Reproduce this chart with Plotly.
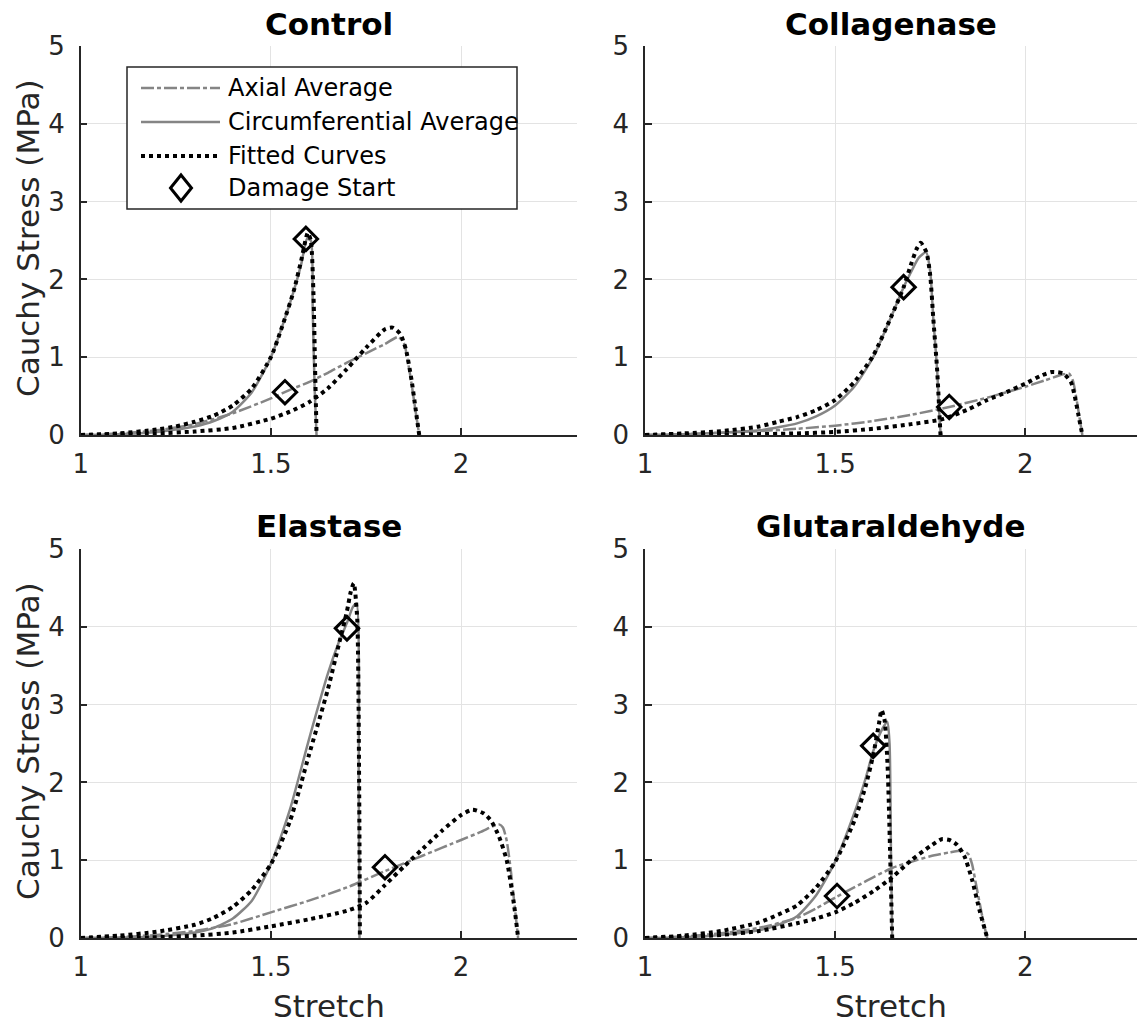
import plotly.graph_objects as go

# ---------------- data ----------------
PANEL_TITLES = ["Control", "Collagenase", "Elastase", "Glutaraldehyde"]
X_TICKS = [1, 1.5, 2]
X_TICK_TEXT = ["1", "1.5", "2"]
Y_TICKS = [0, 1, 2, 3, 4, 5]
Y_TICK_TEXT = ["0", "1", "2", "3", "4", "5"]
LEGEND_LABELS = ["Axial Average", "Circumferential Average", "Fitted Curves", "Damage Start"]

# Control
ctrl_circ_x = [1.00, 1.10, 1.20, 1.25, 1.30, 1.35, 1.40, 1.45, 1.50, 1.53, 1.56, 1.58, 1.595, 1.605, 1.61, 1.615, 1.62]
ctrl_circ_y = [0, 0.01, 0.04, 0.07, 0.11, 0.18, 0.30, 0.55, 1.00, 1.40, 1.85, 2.20, 2.52, 2.50, 1.60, 0.60, 0]
ctrl_circfit_x = [1.00, 1.10, 1.20, 1.25, 1.30, 1.35, 1.40, 1.45, 1.50, 1.53, 1.56, 1.58, 1.597, 1.605, 1.612, 1.616, 1.619, 1.62]
ctrl_circfit_y = [0, 0.02, 0.07, 0.11, 0.17, 0.25, 0.38, 0.60, 1.00, 1.40, 1.85, 2.25, 2.60, 2.50, 1.80, 0.90, 0.25, 0]
ctrl_ax_x = [1.00, 1.10, 1.20, 1.30, 1.40, 1.50, 1.55, 1.60, 1.65, 1.70, 1.75, 1.80, 1.835, 1.85, 1.86, 1.87, 1.88, 1.89]
ctrl_ax_y = [0, 0.02, 0.06, 0.14, 0.28, 0.47, 0.58, 0.68, 0.80, 0.93, 1.05, 1.17, 1.26, 1.18, 0.95, 0.65, 0.32, 0]
ctrl_axfit_x = [1.00, 1.10, 1.20, 1.30, 1.40, 1.50, 1.55, 1.60, 1.65, 1.70, 1.75, 1.80, 1.82, 1.84, 1.855, 1.87, 1.88, 1.89]
ctrl_axfit_y = [0, 0.005, 0.02, 0.045, 0.09, 0.21, 0.30, 0.42, 0.60, 0.85, 1.12, 1.36, 1.38, 1.30, 1.10, 0.70, 0.35, 0]
ctrl_dmg_x = [1.592, 1.537]
ctrl_dmg_y = [2.52, 0.55]

# Collagenase
col_circ_x = [1.00, 1.10, 1.20, 1.30, 1.35, 1.40, 1.45, 1.50, 1.55, 1.60, 1.65, 1.68, 1.70, 1.72, 1.739, 1.75, 1.758, 1.768, 1.777, 1.78]
col_circ_y = [0, 0.01, 0.03, 0.06, 0.10, 0.15, 0.24, 0.38, 0.62, 1.00, 1.55, 1.90, 2.10, 2.28, 2.35, 2.10, 1.50, 0.85, 0.05, 0]
col_circfit_x = [1.00, 1.10, 1.20, 1.30, 1.35, 1.40, 1.45, 1.50, 1.55, 1.60, 1.65, 1.68, 1.70, 1.715, 1.725, 1.74, 1.75, 1.758, 1.768, 1.777]
col_circfit_y = [0, 0.02, 0.05, 0.11, 0.17, 0.23, 0.32, 0.45, 0.68, 1.02, 1.55, 1.90, 2.20, 2.40, 2.47, 2.35, 2.05, 1.50, 0.85, 0]
col_ax_x = [1.00, 1.10, 1.20, 1.30, 1.40, 1.50, 1.60, 1.70, 1.80, 1.90, 1.95, 2.00, 2.05, 2.10, 2.115, 2.125, 2.135, 2.145, 2.15]
col_ax_y = [0, 0.01, 0.03, 0.05, 0.08, 0.12, 0.18, 0.26, 0.36, 0.48, 0.55, 0.62, 0.70, 0.78, 0.79, 0.70, 0.45, 0.15, 0]
col_axfit_x = [1.00, 1.20, 1.40, 1.50, 1.60, 1.70, 1.78, 1.85, 1.90, 1.95, 2.00, 2.04, 2.07, 2.10, 2.12, 2.13, 2.14, 2.15]
col_axfit_y = [0, 0.005, 0.02, 0.04, 0.08, 0.14, 0.20, 0.33, 0.45, 0.55, 0.66, 0.76, 0.81, 0.79, 0.68, 0.50, 0.25, 0]
col_dmg_x = [1.68, 1.80]
col_dmg_y = [1.90, 0.36]

# Elastase
ela_circ_x = [1.00, 1.10, 1.20, 1.30, 1.35, 1.40, 1.45, 1.50, 1.55, 1.60, 1.65, 1.68, 1.70, 1.715, 1.725, 1.731, 1.733]
ela_circ_y = [0, 0.005, 0.02, 0.07, 0.13, 0.25, 0.48, 0.95, 1.65, 2.55, 3.40, 3.82, 4.05, 4.25, 4.30, 2.00, 0]
ela_circfit_x = [1.00, 1.10, 1.20, 1.30, 1.35, 1.40, 1.45, 1.50, 1.55, 1.60, 1.65, 1.68, 1.70, 1.71, 1.718, 1.727, 1.732, 1.734]
ela_circfit_y = [0, 0.03, 0.08, 0.17, 0.26, 0.40, 0.62, 0.95, 1.50, 2.35, 3.20, 3.80, 4.20, 4.45, 4.56, 4.10, 2.00, 0]
ela_ax_x = [1.00, 1.10, 1.20, 1.30, 1.40, 1.50, 1.60, 1.70, 1.80, 1.90, 2.00, 2.05, 2.09, 2.10, 2.11, 2.12, 2.13, 2.14, 2.15]
ela_ax_y = [0, 0.01, 0.04, 0.09, 0.18, 0.33, 0.48, 0.65, 0.86, 1.06, 1.26, 1.36, 1.45, 1.46, 1.42, 1.25, 0.90, 0.45, 0]
ela_axfit_x = [1.00, 1.20, 1.30, 1.40, 1.50, 1.60, 1.70, 1.75, 1.80, 1.85, 1.90, 1.95, 2.00, 2.03, 2.06, 2.08, 2.10, 2.12, 2.14, 2.15]
ela_axfit_y = [0, 0.01, 0.03, 0.07, 0.15, 0.24, 0.35, 0.45, 0.68, 0.92, 1.15, 1.38, 1.58, 1.65, 1.60, 1.50, 1.30, 1.00, 0.40, 0]
ela_dmg_x = [1.70, 1.80]
ela_dmg_y = [3.98, 0.91]

# Glutaraldehyde
glu_circ_x = [1.00, 1.10, 1.20, 1.30, 1.35, 1.40, 1.45, 1.50, 1.55, 1.58, 1.60, 1.62, 1.637, 1.643, 1.647, 1.65]
glu_circ_y = [0, 0.01, 0.04, 0.10, 0.17, 0.28, 0.55, 0.98, 1.60, 2.05, 2.40, 2.65, 2.78, 2.50, 1.00, 0]
glu_circfit_x = [1.00, 1.10, 1.20, 1.30, 1.35, 1.40, 1.45, 1.50, 1.55, 1.58, 1.60, 1.615, 1.622, 1.63, 1.638, 1.645, 1.65]
glu_circfit_y = [0, 0.03, 0.09, 0.20, 0.30, 0.42, 0.65, 0.98, 1.50, 1.95, 2.35, 2.75, 2.93, 2.80, 2.20, 1.00, 0]
glu_ax_x = [1.00, 1.10, 1.20, 1.30, 1.40, 1.45, 1.50, 1.55, 1.60, 1.65, 1.70, 1.75, 1.80, 1.835, 1.85, 1.86, 1.87, 1.88, 1.89, 1.90]
glu_ax_y = [0, 0.02, 0.06, 0.13, 0.26, 0.38, 0.52, 0.65, 0.78, 0.90, 0.98, 1.05, 1.10, 1.12, 1.08, 0.95, 0.70, 0.45, 0.20, 0]
glu_axfit_x = [1.00, 1.10, 1.20, 1.30, 1.40, 1.45, 1.50, 1.55, 1.60, 1.65, 1.70, 1.75, 1.78, 1.80, 1.82, 1.84, 1.86, 1.88, 1.90]
glu_axfit_y = [0, 0.01, 0.04, 0.09, 0.19, 0.25, 0.33, 0.45, 0.60, 0.78, 1.00, 1.18, 1.27, 1.26, 1.20, 1.05, 0.75, 0.35, 0]
glu_dmg_x = [1.60, 1.505]
glu_dmg_y = [2.47, 0.54]

PANELS = [
    (ctrl_ax_x, ctrl_ax_y, ctrl_circ_x, ctrl_circ_y, ctrl_axfit_x, ctrl_axfit_y, ctrl_circfit_x, ctrl_circfit_y, ctrl_dmg_x, ctrl_dmg_y),
    (col_ax_x, col_ax_y, col_circ_x, col_circ_y, col_axfit_x, col_axfit_y, col_circfit_x, col_circfit_y, col_dmg_x, col_dmg_y),
    (ela_ax_x, ela_ax_y, ela_circ_x, ela_circ_y, ela_axfit_x, ela_axfit_y, ela_circfit_x, ela_circfit_y, ela_dmg_x, ela_dmg_y),
    (glu_ax_x, glu_ax_y, glu_circ_x, glu_circ_y, glu_axfit_x, glu_axfit_y, glu_circfit_x, glu_circfit_y, glu_dmg_x, glu_dmg_y),
]

# ---------------- style ----------------
W, H = 1137, 1027
FONT = "DejaVu Sans"
DARK = "#262626"
GRAY = "#858585"
GRID = "#e3e3e3"
AX_DASH = "13px,3px,4px,3px"
SMOOTH = 0.6

def px_x(p):
    return p / W

def px_y(p):
    return 1 - p / H

# axes positions (pixels)
X_DOM = [(80.7, 576.7), (645, 1137)]
Y_DOM = [(46, 435), (549, 938)]
X_RANGES = [[1, 2.304], [1, 2.2937]]

fig = go.Figure()
layout = dict(
    width=W, height=H,
    margin=dict(l=0, r=0, t=0, b=0, pad=0),
    paper_bgcolor="white", plot_bgcolor="white",
    showlegend=False,
    font=dict(family=FONT, color=DARK),
    hovermode=False,
)

for i in range(4):
    r, c = divmod(i, 2)
    n = i + 1
    xa = "x" if n == 1 else f"x{n}"
    ya = "y" if n == 1 else f"y{n}"
    ax_x, ax_y, ci_x, ci_y, afx, afy, cfx, cfy, dx, dy = PANELS[i]

    fig.add_trace(go.Scatter(x=ax_x, y=ax_y, mode="lines", xaxis=xa, yaxis=ya,
                             line=dict(color=GRAY, width=2.5, dash=AX_DASH, shape="spline", smoothing=SMOOTH)))
    fig.add_trace(go.Scatter(x=ci_x, y=ci_y, mode="lines", xaxis=xa, yaxis=ya,
                             line=dict(color=GRAY, width=2.5, shape="spline", smoothing=SMOOTH)))
    fig.add_trace(go.Scatter(x=afx, y=afy, mode="lines", xaxis=xa, yaxis=ya,
                             line=dict(color="black", width=4, dash="dot", shape="spline", smoothing=SMOOTH)))
    fig.add_trace(go.Scatter(x=cfx, y=cfy, mode="lines", xaxis=xa, yaxis=ya,
                             line=dict(color="black", width=4, dash="dot", shape="spline", smoothing=SMOOTH)))
    fig.add_trace(go.Scatter(x=dx, y=dy, mode="markers", xaxis=xa, yaxis=ya, cliponaxis=False,
                             marker=dict(symbol="diamond-open", size=18, color="black",
                                         line=dict(color="black", width=3))))

    x0, x1 = X_DOM[c]
    y0, y1 = Y_DOM[r]
    xkey = "xaxis" if n == 1 else f"xaxis{n}"
    ykey = "yaxis" if n == 1 else f"yaxis{n}"
    layout[xkey] = dict(
        domain=[px_x(x0), min(1.0, px_x(x1))], range=X_RANGES[c], anchor=ya, automargin=False,
        tickvals=X_TICKS, ticktext=X_TICK_TEXT, ticks="inside", ticklen=7, tickwidth=1.5,
        tickcolor=DARK, showline=True, linecolor=DARK, linewidth=1.5, mirror=False,
        showgrid=True, gridcolor=GRID, gridwidth=1.2, zeroline=False,
        tickfont=dict(family=FONT, size=26, color=DARK), ticklabelstandoff=5,
    )
    layout[ykey] = dict(
        domain=[px_y(y1), px_y(y0)], range=[0, 5], anchor=xa, automargin=False,
        tickvals=Y_TICKS, ticktext=Y_TICK_TEXT, ticks="inside", ticklen=7, tickwidth=1.5,
        tickcolor=DARK, showline=True, linecolor=DARK, linewidth=1.5, mirror=False,
        showgrid=True, gridcolor=GRID, gridwidth=1.2, zeroline=False,
        tickfont=dict(family=FONT, size=26, color=DARK), ticklabelstandoff=9,
    )

annotations = []
shapes = []
title_centers = [(328.7, 23.5), (891, 23.5), (328.7, 526), (891, 526)]
for i, t in enumerate(PANEL_TITLES):
    cx, cy = title_centers[i]
    annotations.append(dict(text=f"<b>{t}</b>", x=px_x(cx), y=px_y(cy), xref="paper", yref="paper",
                            xanchor="center", yanchor="middle", showarrow=False,
                            font=dict(family=FONT, size=31, color="black")))
for cy in (238, 741):
    annotations.append(dict(text="Cauchy Stress (MPa)", x=px_x(28), y=px_y(cy), xref="paper", yref="paper",
                            xanchor="center", yanchor="middle", textangle=-90, showarrow=False,
                            font=dict(family=FONT, size=31, color=DARK)))
for cx in (328.7, 891):
    annotations.append(dict(text="Stretch", x=px_x(cx), y=px_y(1006), xref="paper", yref="paper",
                            xanchor="center", yanchor="middle", showarrow=False,
                            font=dict(family=FONT, size=31, color=DARK)))

# ---------------- legend (drawn manually, MATLAB style) ----------------
shapes.append(dict(type="rect", xref="paper", yref="paper", layer="above",
                   x0=px_x(127), x1=px_x(517), y0=px_y(209), y1=px_y(67),
                   line=dict(color=DARK, width=1.5), fillcolor="white"))
leg_rows = [88, 122, 156, 188]
leg_styles = [dict(color=GRAY, width=2.5, dash=AX_DASH), dict(color=GRAY, width=2.5),
              dict(color="black", width=4, dash="dot")]
for ry, st in zip(leg_rows[:3], leg_styles):
    shapes.append(dict(type="line", xref="paper", yref="paper", layer="above",
                       x0=px_x(141), x1=px_x(220), y0=px_y(ry), y1=px_y(ry), line=st))
dcx, dcy = 181, leg_rows[3]
path = (f"M {px_x(dcx)},{px_y(dcy - 13)} L {px_x(dcx + 10.5)},{px_y(dcy)} "
        f"L {px_x(dcx)},{px_y(dcy + 13)} L {px_x(dcx - 10.5)},{px_y(dcy)} Z")
shapes.append(dict(type="path", xref="paper", yref="paper", layer="above", path=path,
                   line=dict(color="black", width=3)))
for ry, lab in zip(leg_rows, LEGEND_LABELS):
    annotations.append(dict(text=lab, x=px_x(226), y=px_y(ry), xref="paper", yref="paper",
                            xanchor="left", yanchor="middle", showarrow=False,
                            font=dict(family=FONT, size=24, color="black")))

layout["annotations"] = annotations
layout["shapes"] = shapes
fig.update_layout(**layout)
fig.write_html("out.html")
